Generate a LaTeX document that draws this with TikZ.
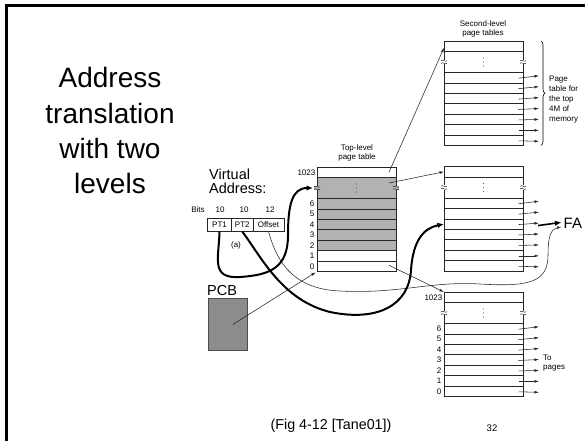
\documentclass[tikz,border=0pt]{standalone}
\usepackage{fontspec}
\setmainfont{Liberation Sans}
\usetikzlibrary{arrows.meta,decorations.pathreplacing,calc}
\definecolor{tlgray}{RGB}{178,178,178}
\definecolor{pcbgray}{RGB}{140,140,140}
\tikzset{
  rowbox/.style={draw=black!85, line width=0.6pt, minimum width=79pt, inner sep=0pt, outer sep=0pt, anchor=north west},
  addrbox/.style={draw=black!85, line width=0.6pt, minimum height=13.5pt, inner sep=0pt, outer sep=0pt, anchor=north west, font=\fontsize{8}{9}\selectfont},
  lbl/.style={font=\fontsize{8}{9}\selectfont, inner sep=0pt},
  thinarrow/.style={draw=black!85, line width=0.55pt, -{Latex[length=4.5pt,width=2.8pt]}},
  thickarrow/.style={draw=black, line width=2pt, -{Latex[length=6.5pt,width=5.5pt]}},
  wavy/.style={draw=black!85, line width=0.5pt},
  titletext/.style={font=\fontsize{28}{35}\selectfont, anchor=base, inner sep=0pt},
  vatext/.style={font=\fontsize{14.5}{14.5}\selectfont, anchor=base west, inner sep=0pt},
}
\newcommand\mybreak[2]{% coordinate, background fill
  \fill[#2] ($(#1)+(-3.2,-2.4)$) rectangle ($(#1)+(3.2,2.4)$);
  \draw[wavy] ($(#1)+(-3,-1.3)$) .. controls ($(#1)+(-1.2,-3.2)$) and ($(#1)+(1.2,0.6)$) .. ($(#1)+(3,-1.3)$);
  \draw[wavy] ($(#1)+(-3,1.3)$) .. controls ($(#1)+(-1.2,-0.6)$) and ($(#1)+(1.2,3.2)$) .. ($(#1)+(3,1.3)$);
}
\newcommand\mytable[5]{%
  \node[rowbox, minimum height=10.5pt] (#1-top) at (#2,#3) {};
  \node[rowbox, minimum height=21pt, fill=#4] (#1-dots) at (#1-top.south west) {};
  \foreach \r [remember=\r as \prev (initially dots)] in {6,...,0} {
    \ifnum\r>#5 \def\myrowfill{tlgray}\else\def\myrowfill{white}\fi
    \node[rowbox, minimum height=10.43pt, fill=\myrowfill] (#1-\r) at (#1-\prev.south west) {};
  }
  \mybreak{#1-dots.west}{#4}
  \mybreak{#1-dots.east}{#4}
  \foreach \dy in {-4,0,4}
    \fill[black!60] ($(#1-dots.center)+(0,\dy)$) circle (0.55pt);
}
\newcommand\myrowarrows[1]{%
  \foreach \r/\d in {6/-2,5/-1.5,4/-1,3/-0.5,2/0,1/0.5,0/1}
    \draw[thinarrow] ($(#1-\r.east)+(-4.5,0.5)$) -- ($(#1-\r.east)+(16,\d)$);
}
\newcommand\myrowlabels[1]{%
  \node[lbl, anchor=east] (#1-l1023) at ($(#1-top.west)+(-1.5,0)$) {1023};
  \foreach \r in {6,...,0}
    \node[lbl, anchor=east] (#1-l\r) at ($(#1-\r.west)+(-2.5,0)$) {\r};
}
\begin{document}
\begin{tikzpicture}[x=1pt, y=-1pt]
\useasboundingbox (0,0) rectangle (585,441);
% slide frame
\draw[line width=3pt] (585,5.5) -- (6.5,5.5) -- (6.5,441);

% title
\node[titletext] (t1) at (110,88) {Address};
\node[titletext] (t2) at (110,123) {translation};
\node[titletext] (t3) at (110,158) {with two};
\node[titletext] (t4) at (110,193) {levels};

% tables
\mytable{tl}{317}{167}{tlgray}{1}
\mytable{st}{444}{41}{white}{7}
\mytable{mid}{444}{166.5}{white}{7}
\mytable{bt}{444}{292}{white}{7}
\myrowlabels{tl}
\myrowlabels{bt}
\myrowarrows{st}
\myrowarrows{mid}
\myrowarrows{bt}

% table captions
\node[lbl, anchor=base] (tlc1) at (357,150) {Top-level};
\node[lbl, anchor=base] (tlc2) at (357,159.5) {page table};
\node[lbl, anchor=base] (stc1) at (483,26.5) {Second-level};
\node[lbl, anchor=base] (stc2) at (483,35.5) {page tables};

% brace and note
\draw[decorate, decoration={brace, amplitude=4pt}, line width=0.6pt] ($(st-top.north east)+(18,0)$) -- ($(st-0.south east)+(18,0)$);
\node[lbl, anchor=base west] (n1) at (549,81.5) {Page};
\node[lbl, anchor=base west] (n2) at (549,91.5) {table for};
\node[lbl, anchor=base west] (n3) at (549,101.5) {the top};
\node[lbl, anchor=base west] (n4) at (549,111.5) {4M of};
\node[lbl, anchor=base west] (n5) at (549,121.5) {memory};
\node[lbl, anchor=base west] (tp1) at (543,360) {To};
\node[lbl, anchor=base west] (tp2) at (543,369.5) {pages};

% virtual address
\node[vatext] (va1) at (209,179.5) {Virtual};
\node[vatext] (va2) at (209,193.5) {Address:};
\node[lbl, anchor=base] (bits) at (198,212) {Bits};
\node[lbl, anchor=base] (b1) at (220,212) {10};
\node[lbl, anchor=base] (b2) at (244,212) {10};
\node[lbl, anchor=base] (b3) at (270,212) {12};
\node[addrbox, minimum width=24pt] (pt1) at (207.5,218) {PT1};
\node[addrbox, minimum width=21.5pt] (pt2) at (pt1.north east) {PT2};
\node[addrbox, minimum width=31pt] (off) at (pt2.north east) {Offset};
\node[lbl] (a) at (236,245) {(a)};

% PCB
\node[font=\fontsize{14.5}{15}\selectfont, anchor=base west, inner sep=0pt] (pcbl) at (207,295) {PCB};
\node[draw=black!70, fill=pcbgray, line width=0.8pt, minimum width=39pt, minimum height=52pt, anchor=north west, inner sep=0pt] (pcb) at (208,298) {};

% FA
\node[font=\fontsize{15}{15}\selectfont, anchor=base west, inner sep=0pt] (fa) at (563.5,228) {FA};

% thin connectors
\draw[thinarrow] ($(tl-top.east)+(-7,0)$) -- ($(st-top.west)+(0,1.5)$);
\draw[thinarrow] ($(tl-dots.east)+(-7,-5)$) -- (mid-top.west);
\draw[thinarrow] ($(tl-0.east)+(-7,-1)$) -- (bt-top.north west);
\draw[thinarrow, shorten >=1.5pt] ($(pcb.center)+(5,0)$) -- (tl-0.south west);
\draw[thinarrow] (off.south) .. controls (276,258) and (290,289) .. (340,291)
  .. controls (400,294) and (430,281) .. (480,284)
  .. controls (530,287) and (548,282) .. (548,255)
  .. controls (548,236) and (551,229) .. ($(fa.west)+(-2,4)$);

% thick connectors
\draw[thickarrow] (pt1.south) .. controls (219,258) and (210,279) .. (240,277)
  .. controls (270,275) and (288,268) .. (288,235)
  .. controls (288,205) and (292,188) .. ($(tl-dots.west)+(-4,0)$);
\draw[thickarrow] (pt2.south) .. controls (262,258) and (282,300) .. (330,312)
  .. controls (378,322) and (409,305) .. (411,270)
  .. controls (413,240) and (424,228) .. (mid-4.west);
\draw[thickarrow, line width=1.6pt] ($(mid-4.east)+(15,1.5)$) -- ($(fa.west)+(-2,-0.5)$);

% footer
\node[font=\fontsize{14.3}{15}\selectfont, anchor=base, inner sep=0pt] (fig) at (331,429.5) {(Fig 4-12 [Tane01])};
\node[font=\fontsize{9.5}{10}\selectfont, anchor=base, inner sep=0pt] (pg) at (492,431) {32};
\end{tikzpicture}
\end{document}
